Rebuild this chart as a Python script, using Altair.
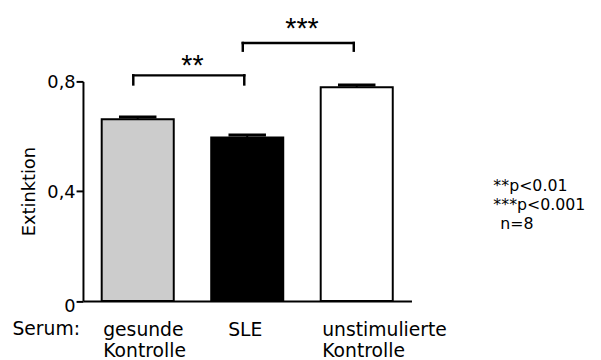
import altair as alt
import pandas as pd

# ---- data ----
categories = ["gesunde Kontrolle", "SLE", "unstimulierte Kontrolle"]
means = [0.662, 0.596, 0.779]
errors = [0.008, 0.009, 0.008]
fills = ["#cccccc", "#000000", "#ffffff"]

y_ticks = [0, 0.4, 0.8]
y_tick_labels = ["0", "0,4", "0,8"]

bracket_from = ["gesunde Kontrolle", "SLE"]
bracket_to = ["SLE", "unstimulierte Kontrolle"]
bracket_top = [0.822, 0.940]
bracket_bottom = [0.789, 0.912]
bracket_labels = ["**", "***"]
bracket_label_y = [0.824, 0.960]

notes_p = ["**p<0.01", "***p<0.001"]
note_n = "n=8"

FONT = "DejaVu Sans"
STAR_FONT = "Liberation Sans"

bars_df = pd.DataFrame({
    "cat": categories,
    "mean": means,
    "upper": [m + e for m, e in zip(means, errors)],
    "fill": fills,
})
br_df = pd.DataFrame({
    "from": bracket_from,
    "to": bracket_to,
    "top": bracket_top,
    "bottom": bracket_bottom,
    "label": bracket_labels,
    "label_y": bracket_label_y,
})
one_df = pd.DataFrame({"k": [0]})

# y-axis label expression built from the tick lists
lab_expr = "''"
for v, l in zip(reversed(y_ticks), reversed(y_tick_labels)):
    lab_expr = f"datum.value == {v} ? '{l}' : ({lab_expr})"

xscale = alt.Scale(domain=categories, paddingInner=0.342, paddingOuter=0.171)
yscale = alt.Scale(domain=[0, 0.8], nice=False)

xaxis = alt.Axis(
    title="Serum:", titleX=-72, titleY=34.5, titleAlign="left",
    titleBaseline="alphabetic", titleFontWeight="normal", titleFontSize=19,
    labelExpr="split(datum.label, ' ')", labelAngle=0, labelFontSize=19,
    labelLineHeight=21, labelPadding=20, labelOverlap=False, labelBound=False,
    labelAlign={"condition": {"test": "datum.value == 'SLE'", "value": "center"}, "value": "left"},
    labelOffset={"condition": {"test": "datum.value == 'SLE'", "value": -2}, "value": -35},
    ticks=False, domainWidth=2, domainColor="black", labelColor="black", titleColor="black",
)
yaxis = alt.Axis(
    title="Extinktion", values=y_ticks, labelExpr=lab_expr,
    tickSize=7, tickWidth=2, tickColor="black", domainWidth=2, domainColor="black",
    labelPadding=1, labelFontSize=18, labelColor="black",
    labelOffset={"condition": {"test": "datum.value == 0", "value": 6}, "value": 1},
    titleFontSize=18, titleFontWeight="normal", titleColor="black", titlePadding=8,
    grid=False,
)

def X(field):
    return alt.X(f"{field}:N", scale=xscale, sort=categories, axis=xaxis)

def Y(field):
    return alt.Y(f"{field}:Q", scale=yscale, axis=yaxis)

bars = alt.Chart(bars_df).mark_bar(stroke="black", strokeWidth=2).encode(
    x=X("cat"), y=Y("mean"), fill=alt.Fill("fill:N", scale=None)
)
err = alt.Chart(bars_df).mark_rule(strokeWidth=2, color="black").encode(
    x=X("cat"), y=Y("mean"), y2="upper:Q"
)
cap = alt.Chart(bars_df).mark_tick(thickness=3, size=38, color="black", opacity=1).encode(
    x=X("cat"), y=Y("upper")
)

hline = alt.Chart(br_df).mark_rule(strokeWidth=2.5, color="black", xOffset=-4.5, x2Offset=-3, strokeCap="square").encode(
    x=X("from"), x2="to:N", y=Y("top")
)
ltick = alt.Chart(br_df).mark_rule(strokeWidth=2.5, color="black", xOffset=-4.5, strokeCap="square").encode(
    x=X("from"), y=Y("bottom"), y2="top:Q"
)
rtick = alt.Chart(br_df).mark_rule(strokeWidth=2.5, color="black", xOffset=-3, strokeCap="square").encode(
    x=X("to"), y=Y("bottom"), y2="top:Q"
)
blabel = alt.Chart(br_df).mark_text(
    dx=55.5, fontSize=29, baseline="alphabetic", align="center", color="black", font=STAR_FONT
).encode(x=X("from"), y=Y("label_y"), text="label:N")

note_p = alt.Chart(one_df).mark_text(
    align="left", baseline="alphabetic", fontSize=16, lineHeight=19.5,
    color="black", font=FONT, text=notes_p
).encode(x=alt.value(416), y=alt.value(111))
note_nn = alt.Chart(one_df).mark_text(
    align="left", baseline="alphabetic", fontSize=16,
    color="black", font=FONT, text=note_n
).encode(x=alt.value(423), y=alt.value(149.5))

chart = alt.layer(bars, err, cap, hline, ltick, rtick, blabel, note_p, note_nn).properties(
    width=333, height=222.5,
    padding={"left": 76, "top": 72, "right": 184, "bottom": 58},
    autosize=alt.AutoSizeParams(type="none"),
).configure(font=FONT).configure_view(stroke=None).configure_axis(
    labelFont=FONT, titleFont=FONT
)

chart.save("out.html", embed_options={"renderer": "svg", "actions": False})
